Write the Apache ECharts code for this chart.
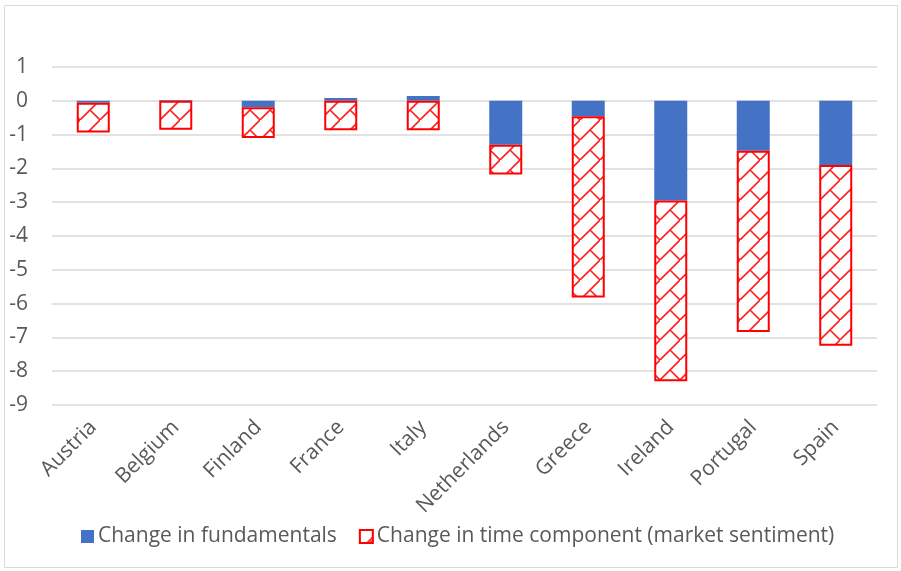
<!DOCTYPE html>
<html>
<head>
<meta charset="utf-8">
<script src="https://cdn.jsdelivr.net/npm/echarts@6/dist/echarts.min.js"></script>
<style>
  html, body { margin: 0; padding: 0; background: #fff; }
  #chart { width: 901px; height: 571px; }
</style>
</head>
<body>
<div id="chart"></div>
<script>
// countries along the x axis
var countries = ['Austria', 'Belgium', 'Finland', 'France', 'Italy', 'Netherlands', 'Greece', 'Ireland', 'Portugal', 'Spain'];
// change in fundamentals
var fundamentals = [-0.06, 0.02, -0.19, 0.08, 0.14, -1.30, -0.46, -2.95, -1.48, -1.90];
// change in time component (market sentiment)
var sentiment = [-0.88, -0.86, -0.91, -0.87, -0.87, -0.88, -5.36, -5.35, -5.36, -5.35];

var FONT = 'Open Sans';
var TEXT = '#595959';

// diagonal brick hatch, red on white
function hatch() {
    var s = 20;
    var c = document.createElement('canvas');
    c.width = s;
    c.height = s;
    var ctx = c.getContext('2d');
    ctx.fillStyle = '#fff';
    ctx.fillRect(0, 0, s, s);
    ctx.strokeStyle = '#ff2020';
    ctx.lineWidth = 1.6;
    ctx.beginPath();
    ctx.moveTo(-2, s + 2); ctx.lineTo(s + 2, -2);
    ctx.moveTo(s / 2, s / 2); ctx.lineTo(s, s);
    ctx.stroke();
    return c;
}

var dom = document.getElementById('chart');
var myChart = echarts.init(dom);

var option = {
    animation: false,
    graphic: [{
        type: 'rect',
        shape: { x: 4.5, y: 5.5, width: 893, height: 562 },
        style: { fill: 'none', stroke: '#d9d9d9', lineWidth: 1 },
        silent: true
    }],
    grid: { left: 52, right: 24, top: 67, bottom: 166 },
    legend: {
        bottom: 19,
        left: 76,
        icon: 'rect',
        itemWidth: 13,
        itemHeight: 13,
        itemGap: 22,
        textStyle: { fontFamily: FONT, fontSize: 21, color: TEXT, padding: [0, 0, 0, -1] },
        data: ['Change in fundamentals', 'Change in time component (market sentiment)']
    },
    xAxis: {
        type: 'category',
        data: countries,
        axisLine: { show: false },
        axisTick: { show: false },
        axisLabel: { rotate: 45, margin: 19, interval: 0, fontFamily: FONT, fontSize: 21, color: TEXT }
    },
    yAxis: {
        type: 'value',
        min: -9,
        max: 1,
        interval: 1,
        axisLine: { show: false },
        axisTick: { show: false },
        axisLabel: { margin: 24, fontFamily: FONT, fontSize: 21, color: TEXT },
        splitLine: { lineStyle: { color: '#d9d9d9', width: 1.5 } }
    },
    series: [
        {
            name: 'Change in fundamentals',
            type: 'bar',
            stack: 'total',
            barWidth: '40%',
            itemStyle: { color: '#4472c4' },
            data: fundamentals
        },
        {
            name: 'Change in time component (market sentiment)',
            type: 'bar',
            stack: 'total',
            barWidth: '40%',
            itemStyle: {
                color: { image: hatch(), repeat: 'repeat' },
                borderColor: '#ff0000',
                borderWidth: 2
            },
            data: sentiment
        }
    ]
};

myChart.setOption(option);
</script>
</body>
</html>
